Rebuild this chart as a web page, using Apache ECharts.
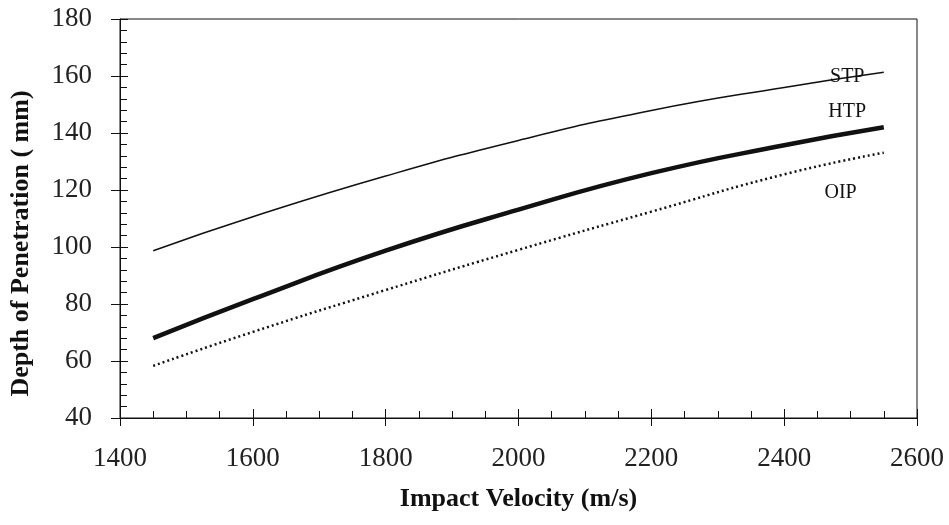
<!DOCTYPE html>
<html>
<head>
<meta charset="utf-8">
<script src="https://cdn.jsdelivr.net/npm/echarts@6/dist/echarts.min.js"></script>
<style>
  html, body { margin: 0; padding: 0; background: #fff; }
  #chart { width: 949px; height: 525px; }
</style>
</head>
<body>
<div id="chart"></div>
<script>
// Valores
var velocities = [1450, 1600, 1800, 2000, 2200, 2400, 2550];
var stpDepth = [98.7, 110.6, 124.9, 137.4, 147.9, 156.0, 161.3];
var htpDepth = [68.0, 81.7, 98.7, 113.1, 125.9, 135.7, 142.0];
var oipDepth = [58.3, 70.2, 84.9, 99.0, 112.4, 125.5, 133.1];
var seriesNames = ['STP', 'HTP', 'OIP'];
var labelCoords = [[2495, 159.8], [2495, 147.6], [2485, 119.0]];

function pairs(ys) {
  return velocities.map(function (v, i) { return [v, ys[i]]; });
}

var serif = '"Liberation Serif", "DejaVu Serif", serif';

document.addEventListener('DOMContentLoaded', function () {
  var chart = echarts.init(document.getElementById('chart'));

  // Etiqueta de texto junto a cada curva
  var lineLabel = function (i) {
    return {
      symbol: 'circle',
      symbolSize: 1,
      itemStyle: { color: 'rgba(0,0,0,0)' },
      data: [{ coord: labelCoords[i], name: seriesNames[i] }],
      label: {
        show: true,
        position: 'inside',
        formatter: '{b}',
        color: '#111',
        fontFamily: serif,
        fontSize: 20
      }
    };
  };

  var plain = function (v) { return String(v); };

  var option = {
    animation: false,
    grid: {
      left: 117, right: 32, top: 19, bottom: 107,
      show: true, borderColor: '#111', borderWidth: 1
    },
    xAxis: [
      {
        type: 'value', min: 1400, max: 2600, interval: 200,
        name: 'Impact Velocity (m/s)',
        nameLocation: 'middle',
        nameGap: 68,
        nameTextStyle: { fontFamily: serif, fontWeight: 'bold', fontSize: 26, color: '#111' },
        axisLine: { show: true, lineStyle: { color: '#111', width: 1 } },
        axisTick: { show: true, inside: true, length: 9, lineStyle: { color: '#111' } },
        minorTick: { show: true, splitNumber: 4, length: 7, lineStyle: { color: '#111' } },
        axisLabel: { margin: 27, fontFamily: serif, fontSize: 27, color: '#222', formatter: plain },
        splitLine: { show: false }
      },
      {
        type: 'value', min: 1400, max: 2600, interval: 200, position: 'bottom',
        axisLine: { show: false },
        axisTick: { show: true, inside: false, length: 8, lineStyle: { color: '#111' } },
        axisLabel: { show: false },
        splitLine: { show: false }
      }
    ],
    yAxis: [
      {
        type: 'value', min: 40, max: 180, interval: 20,
        name: 'Depth of Penetration ( mm)',
        nameLocation: 'middle',
        nameGap: 86,
        nameTextStyle: {
          fontFamily: serif, fontWeight: 'bold', fontSize: 26, color: '#111',
          padding: [0, 50, 0, 0]
        },
        axisLine: { show: true, lineStyle: { color: '#111', width: 1 } },
        axisTick: { show: true, inside: true, length: 8, lineStyle: { color: '#111' } },
        minorTick: { show: true, splitNumber: 5, length: 7, lineStyle: { color: '#111' } },
        axisLabel: { margin: 28, fontFamily: serif, fontSize: 27, color: '#222', formatter: plain },
        splitLine: { show: false }
      },
      {
        type: 'value', min: 40, max: 180, interval: 20, position: 'left',
        axisLine: { show: false },
        axisTick: { show: true, inside: false, length: 9, lineStyle: { color: '#111' } },
        axisLabel: { show: false },
        splitLine: { show: false }
      }
    ],
    series: [
      {
        name: 'STP', type: 'line', smooth: true, symbol: 'none',
        data: pairs(stpDepth),
        lineStyle: { color: '#111', width: 1.5 },
        markPoint: lineLabel(0)
      },
      {
        name: 'HTP', type: 'line', smooth: true, symbol: 'none',
        data: pairs(htpDepth),
        lineStyle: { color: '#111', width: 4.5 },
        markPoint: lineLabel(1)
      },
      {
        name: 'OIP', type: 'line', smooth: true, symbol: 'none',
        data: pairs(oipDepth),
        lineStyle: { color: '#111', width: 2.5, type: [2, 3] },
        markPoint: lineLabel(2)
      }
    ]
  };

  chart.setOption(option);
});
</script>
</body>
</html>
